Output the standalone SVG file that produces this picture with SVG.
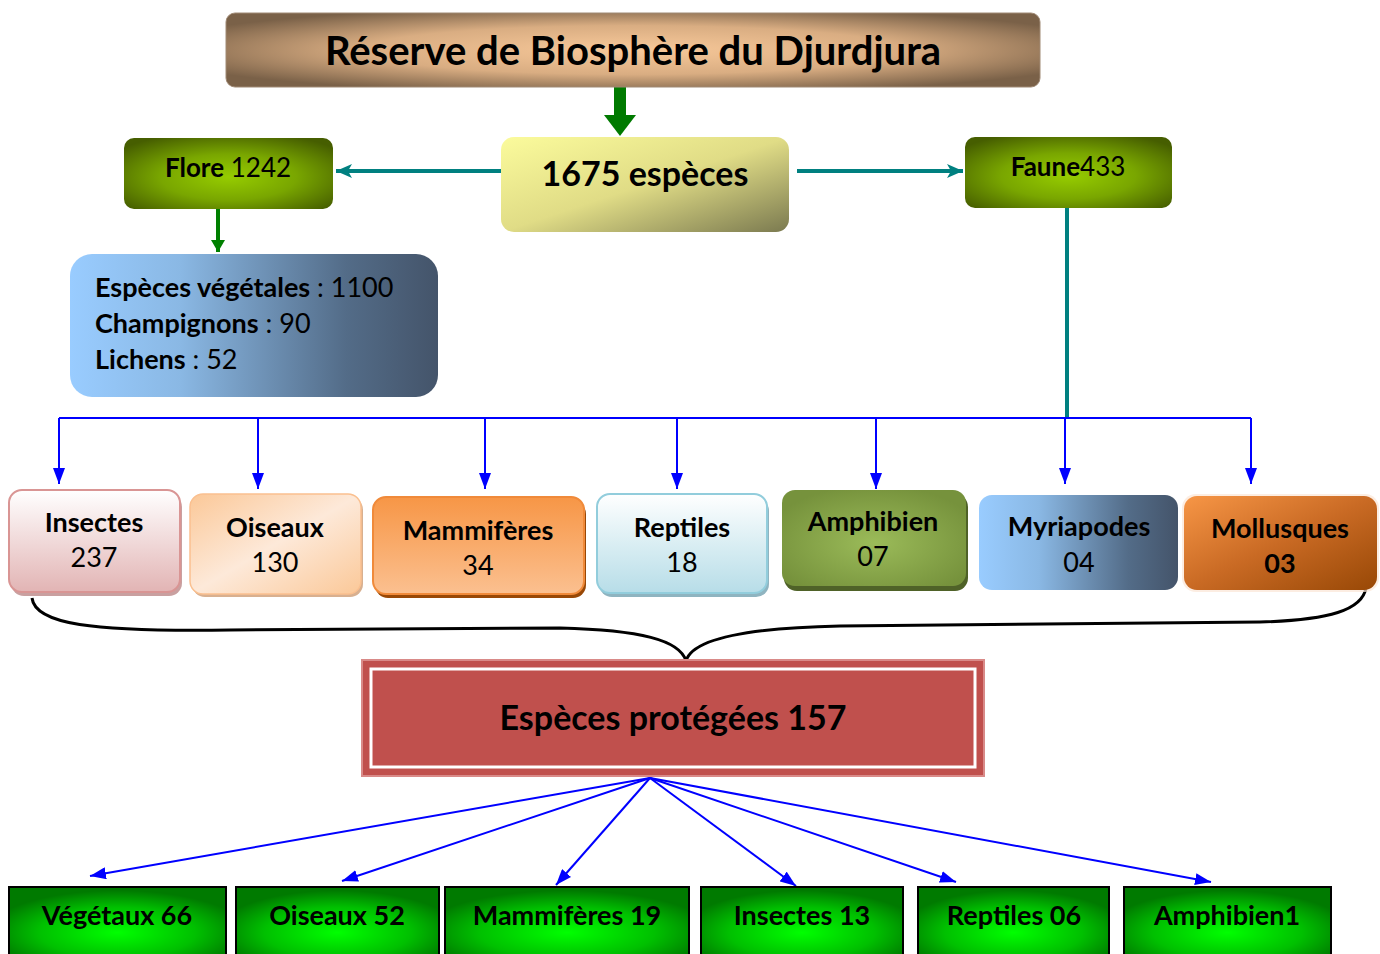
<svg xmlns="http://www.w3.org/2000/svg" width="1380" height="954" viewBox="0 0 1380 954">
<defs>
<radialGradient id="gTitle" cx="0.5" cy="0.5" r="0.6">
<stop offset="0" stop-color="#f8c99a"/><stop offset="0.55" stop-color="#d9ad82"/><stop offset="1" stop-color="#7a6148"/>
</radialGradient>
<linearGradient id="gTotal" x1="0" y1="0" x2="1" y2="1">
<stop offset="0" stop-color="#fbfb9c"/><stop offset="0.5" stop-color="#e0dc86"/><stop offset="1" stop-color="#7b7a50"/>
</linearGradient>
<radialGradient id="gOlive" cx="0.5" cy="0.55" r="0.65">
<stop offset="0" stop-color="#96cc00"/><stop offset="0.5" stop-color="#79a600"/><stop offset="1" stop-color="#465e00"/>
</radialGradient>
<linearGradient id="gBlueGrey" x1="0" y1="0" x2="1" y2="0">
<stop offset="0" stop-color="#99ccff"/><stop offset="0.3" stop-color="#8ab8e4"/><stop offset="0.75" stop-color="#536c88"/><stop offset="1" stop-color="#44546a"/>
</linearGradient>
<linearGradient id="gPink" x1="0" y1="0" x2="0" y2="1">
<stop offset="0" stop-color="#ffffff"/><stop offset="1" stop-color="#e2b4b4"/>
</linearGradient>
<linearGradient id="gPeach" x1="0" y1="0" x2="1" y2="1">
<stop offset="0" stop-color="#fbc898"/><stop offset="0.5" stop-color="#fde9d9"/><stop offset="1" stop-color="#fbc898"/>
</linearGradient>
<linearGradient id="gOrange" x1="0" y1="0" x2="0" y2="1">
<stop offset="0" stop-color="#f79646"/><stop offset="1" stop-color="#fbc090"/>
</linearGradient>
<linearGradient id="gCyan" x1="0" y1="0" x2="0" y2="1">
<stop offset="0" stop-color="#ffffff"/><stop offset="0.5" stop-color="#daeef3"/><stop offset="1" stop-color="#b7dde8"/>
</linearGradient>
<radialGradient id="gAmph" cx="0.5" cy="0.55" r="0.6">
<stop offset="0" stop-color="#9bbb59"/><stop offset="1" stop-color="#76923c"/>
</radialGradient>
<linearGradient id="gMoll" x1="0" y1="0" x2="1" y2="1">
<stop offset="0" stop-color="#f79646"/><stop offset="0.5" stop-color="#c96a24"/><stop offset="1" stop-color="#984806"/>
</linearGradient>
<radialGradient id="gGreen" cx="0.5" cy="0.65" r="0.6">
<stop offset="0" stop-color="#00ff00"/><stop offset="0.6" stop-color="#00c000"/><stop offset="1" stop-color="#007a00"/>
</radialGradient>
<marker id="mBlue" viewBox="0 0 16 12" refX="16" refY="6" markerWidth="16" markerHeight="12" markerUnits="userSpaceOnUse" orient="auto">
<path d="M0 0 L16 6 L0 12 Z" fill="#0000ff"/>
</marker>
<marker id="mTeal" viewBox="0 0 16 14" refX="16" refY="7" markerWidth="16" markerHeight="14" markerUnits="userSpaceOnUse" orient="auto">
<path d="M0 0 L16 7 L0 14 L4 7 Z" fill="#008080"/>
</marker>
<marker id="mGreen" viewBox="0 0 12 14" refX="12" refY="7" markerWidth="12" markerHeight="14" markerUnits="userSpaceOnUse" orient="auto">
<path d="M0 0 L12 7 L0 14 Z" fill="#008000"/>
</marker>
</defs>
<style>
text{font-family:Lato,"Open Sans","Liberation Sans",sans-serif;fill:#000;text-anchor:middle}
.b{font-weight:700}
.r{font-weight:400}
.cat{font-size:27px}
.bot{font-size:27px;font-weight:700}
.det{font-size:27px;text-anchor:start}
.blue{stroke:#0000ff;stroke-width:2;fill:none}
.teal{stroke:#008080;stroke-width:4;fill:none}
.gbox{fill:url(#gGreen);stroke:#000;stroke-width:2}
</style>

<g id="connectors">
<path d="M620 87 V117" stroke="#007a00" stroke-width="12"/>
<path d="M604 115 L636 115 L620 136 Z" fill="#007a00"/>
<path class="teal" d="M501 171 H336" marker-end="url(#mTeal)"/>
<path class="teal" d="M797 171 H963" marker-end="url(#mTeal)"/>
<path d="M218 209 V252" stroke="#008000" stroke-width="4" marker-end="url(#mGreen)"/>
<path class="teal" d="M1067 208 V418"/>
<path class="blue" d="M59 418 H1251"/>
<path class="blue" d="M59 418 V484" marker-end="url(#mBlue)"/>
<path class="blue" d="M258 418 V489" marker-end="url(#mBlue)"/>
<path class="blue" d="M485 418 V489" marker-end="url(#mBlue)"/>
<path class="blue" d="M677 418 V489" marker-end="url(#mBlue)"/>
<path class="blue" d="M876 418 V489" marker-end="url(#mBlue)"/>
<path class="blue" d="M1065 418 V484" marker-end="url(#mBlue)"/>
<path class="blue" d="M1251 418 V484" marker-end="url(#mBlue)"/>
<path d="M32 598 C35 624 90 632 230 630 L560 628 C640 630 680 640 686 661 C692 640 740 628 840 626 L1260 622 C1330 620 1362 610 1366 588" fill="none" stroke="#000" stroke-width="3"/>
<path class="blue" d="M650 778 L90 876" marker-end="url(#mBlue)"/>
<path class="blue" d="M650 778 L342 881" marker-end="url(#mBlue)"/>
<path class="blue" d="M650 778 L556 885" marker-end="url(#mBlue)"/>
<path class="blue" d="M650 778 L796 886" marker-end="url(#mBlue)"/>
<path class="blue" d="M650 778 L956 882" marker-end="url(#mBlue)"/>
<path class="blue" d="M650 778 L1211 882" marker-end="url(#mBlue)"/>
</g>

<g id="title">
<rect x="226" y="13" width="814" height="74" rx="9" fill="url(#gTitle)" stroke="#a08a75" stroke-width="1"/>
<text x="633" y="65" class="b" font-size="40">Réserve de Biosphère du Djurdjura</text>
</g>

<g id="total">
<rect x="501" y="137" width="288" height="95" rx="13" fill="url(#gTotal)"/>
<text x="645" y="186" class="b" font-size="34">1675 espèces</text>
</g>

<g id="flore">
<rect x="124" y="138" width="209" height="71" rx="10" fill="url(#gOlive)"/>
<text x="228" y="177" font-size="26"><tspan class="b">Flore</tspan><tspan class="r"> 1242</tspan></text>
</g>

<g id="faune">
<rect x="965" y="137" width="207" height="71" rx="10" fill="url(#gOlive)"/>
<text x="1068" y="176" font-size="26"><tspan class="b">Faune</tspan><tspan class="r">433</tspan></text>
</g>

<g id="flore-detail">
<rect x="70" y="254" width="368" height="143" rx="22" fill="url(#gBlueGrey)"/>
<text x="95" y="297" class="det"><tspan class="b">Espèces végétales</tspan><tspan class="r"> : 1100</tspan></text>
<text x="95" y="333" class="det"><tspan class="b">Champignons</tspan><tspan class="r"> : 90</tspan></text>
<text x="95" y="369" class="det"><tspan class="b">Lichens</tspan><tspan class="r"> : 52</tspan></text>
</g>

<g id="insectes">
<rect x="11" y="494" width="171" height="102" rx="13" fill="#c9a0a0"/>
<rect x="9" y="490" width="171" height="102" rx="13" fill="url(#gPink)" stroke="#d99594" stroke-width="2"/>
<text x="94" y="532" class="b cat">Insectes</text>
<text x="94" y="567" class="r cat">237</text>
</g>

<g id="oiseaux">
<rect x="192" y="497" width="171" height="100" rx="13" fill="#d8b090"/>
<rect x="190" y="494" width="171" height="100" rx="13" fill="url(#gPeach)" stroke="#fac090" stroke-width="1.5"/>
<text x="275" y="537" class="b cat">Oiseaux</text>
<text x="275" y="572" class="r cat">130</text>
</g>

<g id="mammiferes">
<rect x="375" y="501" width="211" height="97" rx="13" fill="#984806"/>
<rect x="373" y="497" width="211" height="97" rx="13" fill="url(#gOrange)" stroke="#f08a3a" stroke-width="2"/>
<text x="478" y="540" class="b cat">Mammifères</text>
<text x="478" y="575" class="r cat">34</text>
</g>

<g id="reptiles">
<rect x="599" y="498" width="170" height="99" rx="13" fill="#8fb4c0"/>
<rect x="597" y="494" width="170" height="99" rx="13" fill="url(#gCyan)" stroke="#92cddc" stroke-width="2"/>
<text x="682" y="537" class="b cat">Reptiles</text>
<text x="682" y="572" class="r cat">18</text>
</g>

<g id="amphibien">
<rect x="784" y="494" width="184" height="97" rx="13" fill="#4f6228"/>
<rect x="782" y="490" width="184" height="96" rx="13" fill="url(#gAmph)"/>
<text x="873" y="531" class="b cat">Amphibien</text>
<text x="873" y="566" class="r cat">07</text>
</g>

<g id="myriapodes">
<rect x="979" y="495" width="199" height="95" rx="13" fill="url(#gBlueGrey)"/>
<text x="1079" y="536" class="b cat">Myriapodes</text>
<text x="1079" y="572" class="r cat">04</text>
</g>

<g id="mollusques">
<rect x="1182" y="494" width="197" height="98" rx="14" fill="#fbe5d6" opacity="0.7"/>
<rect x="1184" y="496" width="193" height="94" rx="13" fill="url(#gMoll)"/>
<text x="1280" y="538" class="b cat">Mollusques</text>
<text x="1280" y="573" class="b cat">03</text>
</g>

<g id="protegees">
<rect x="362" y="660" width="622" height="116" fill="#c0504d" stroke="#d98a88" stroke-width="2"/>
<rect x="371" y="669" width="604" height="98" fill="none" stroke="#ffffff" stroke-width="3"/>
<text x="673" y="730" class="b" font-size="34">Espèces protégées 157</text>
</g>

<g id="b-vegetaux">
<rect x="9" y="887" width="217" height="70" class="gbox"/>
<text x="117" y="925" class="bot">Végétaux 66</text>
</g>
<g id="b-oiseaux">
<rect x="236" y="887" width="203" height="70" class="gbox"/>
<text x="337" y="925" class="bot">Oiseaux 52</text>
</g>
<g id="b-mammiferes">
<rect x="445" y="887" width="244" height="70" class="gbox"/>
<text x="567" y="925" class="bot">Mammifères 19</text>
</g>
<g id="b-insectes">
<rect x="701" y="887" width="202" height="70" class="gbox"/>
<text x="802" y="925" class="bot">Insectes 13</text>
</g>
<g id="b-reptiles">
<rect x="918" y="887" width="191" height="70" class="gbox"/>
<text x="1014" y="925" class="bot">Reptiles 06</text>
</g>
<g id="b-amphibien">
<rect x="1124" y="887" width="207" height="70" class="gbox"/>
<text x="1227" y="925" class="bot">Amphibien1</text>
</g>
</svg>
